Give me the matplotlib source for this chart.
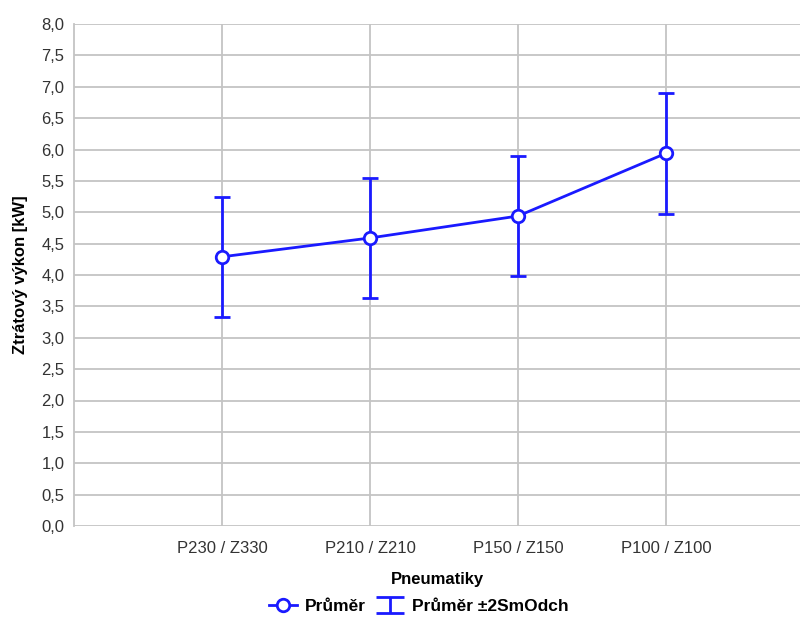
import numpy as np
import matplotlib.pyplot as plt
from matplotlib.lines import Line2D
from matplotlib.path import Path
from matplotlib.ticker import FuncFormatter, MultipleLocator

plt.rcParams['font.family'] = ['Liberation Sans', 'DejaVu Sans']

categories = ["P230 / Z330", "P210 / Z210", "P150 / Z150", "P100 / Z100"]
mean_kw = [4.29, 4.59, 4.94, 5.94]
two_sd = [0.955, 0.96, 0.96, 0.965]

blue = "#1a1aff"
grid_col = "#c4c4c4"

fig = plt.figure(figsize=(8.01, 6.17), dpi=100)
ax = fig.add_axes([74 / 801, 1 - 526 / 617, 726 / 801, 502 / 617])

x = np.arange(1, len(categories) + 1)
ax.errorbar(x, mean_kw, yerr=two_sd, fmt="none", ecolor=blue, elinewidth=2,
            capsize=5.5, capthick=2, zorder=3)
ax.plot(x, mean_kw, color=blue, lw=2, marker="o", ms=9, mfc="white",
        mec=blue, mew=2, zorder=4)

ax.set_xlim(0, 4.905)
ax.set_ylim(0, 8)
ax.set_xticks(x)
ax.set_xticklabels(categories)
ax.yaxis.set_major_locator(MultipleLocator(0.5))
ax.yaxis.set_major_formatter(FuncFormatter(lambda v, p: f"{v:.1f}".replace(".", ",")))
ax.grid(True, color=grid_col, lw=1.3)
ax.set_axisbelow(True)
for side in ["top", "right", "bottom"]:
    ax.spines[side].set_visible(False)
ax.spines["left"].set_color(grid_col)
ax.spines["left"].set_linewidth(1.3)
ax.tick_params(length=0, labelsize=12, labelcolor="#333333", pad=7)
ax.tick_params(axis="x", pad=11)

ax.set_ylabel("Ztrátový výkon [kW]", fontsize=12, fontweight="bold")
ax.yaxis.set_label_coords(-0.064, 0.5)
ax.set_xlabel("Pneumatiky", fontsize=12, fontweight="bold", labelpad=11)

# I-shaped glyph for the error-bar legend entry
ibeam = Path([(-1, 0.6), (1, 0.6), (0, 0.6), (0, -0.6), (-1, -0.6), (1, -0.6)],
             [Path.MOVETO, Path.LINETO, Path.MOVETO, Path.LINETO, Path.MOVETO, Path.LINETO])
handles = [
    Line2D([], [], color=blue, lw=2, marker="o", ms=9, mfc="white", mec=blue, mew=2),
    Line2D([], [], ls="none", marker=ibeam, ms=20, mec=blue, mew=2),
]
fig.legend(handles, ["Průměr", "Průměr ±2SmOdch"], loc="center", ncol=2,
           bbox_to_anchor=(419 / 801, 1 - 606 / 617), frameon=False,
           prop={"weight": "bold", "size": 12.5}, handlelength=1.6,
           handletextpad=0.45, columnspacing=0.6)

fig.savefig("out.png", dpi=100)
